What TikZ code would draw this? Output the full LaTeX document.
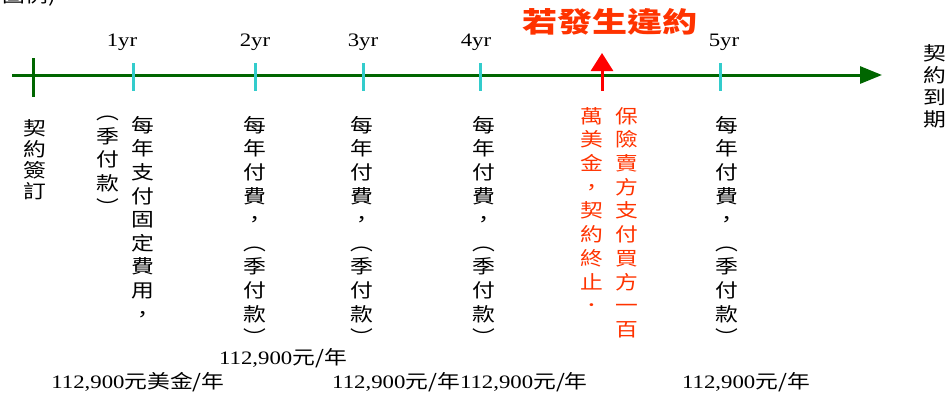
\documentclass[tikz,border=0pt]{standalone}
\usepackage{fontspec}
\setmainfont[FakeStretch=1.2]{Liberation Serif}
\newfontfamily\cjk[FakeStretch=1.2]{Noto Sans CJK TC}
\newfontfamily\cjkwide[FakeStretch=1.25]{Noto Sans CJK TC}
\usetikzlibrary{arrows.meta}
\definecolor{axisgreen}{RGB}{0,102,0}
\definecolor{tickcyan}{RGB}{51,204,204}
\definecolor{warnred}{RGB}{255,51,0}

\begin{document}
\begin{tikzpicture}[x=1pt,y=-1pt,
  col/.style={font=\cjk\fontsize{19}{23.6}\selectfont,align=center,inner sep=0pt,anchor=north},
  redcol/.style={col,text=warnred,font=\cjk\fontsize{19}{23.7}\selectfont},
  tick/.style={draw=tickcyan,line width=3pt},
  yr/.style={font=\fontsize{19}{19}\selectfont,inner sep=0pt},
  amt/.style={font=\fontsize{19}{19}\selectfont,inner sep=0pt}]
\useasboundingbox (0,0) rectangle (952,394);
% time axis
\coordinate (axisL) at (12,75);
\coordinate (axisR) at (882,75);
\draw[axisgreen,line width=3pt,-{Triangle[length=22pt,width=17pt]}] (axisL) -- (axisR);
\draw[axisgreen,line width=3pt] (33,58) -- (33,97);
\draw[tick] (133,63) -- (133,91);
\draw[tick] (255,63) -- (255,91);
\draw[tick] (363,63) -- (363,91);
\draw[tick] (480,63) -- (480,91);
\draw[tick] (720,63) -- (720,91);
% default point
\coordinate (hitL) at (602,91);
\coordinate (hitT) at (602,53);
\draw[red,line width=3pt,-{Triangle[length=18pt,width=22pt]}] (hitL) -- (hitT);
\node[font=\cjkwide\bfseries\fontsize{28}{28}\selectfont,text=warnred,inner sep=0pt] (breach) at (610,22) {若發生違約};
% years
\node[yr] (y1) at (122,42) {1yr};
\node[yr] (y2) at (255,42) {2yr};
\node[yr] (y3) at (363,42) {3yr};
\node[yr] (y4) at (476,42) {4yr};
\node[yr] (y5) at (724,42) {5yr};
% vertical labels
\node[font=\cjk\fontsize{19}{19}\selectfont,anchor=south east,inner sep=0pt] (legend) at (56,6) {圖例)};
\node[col,font=\cjk\fontsize{19}{21}\selectfont] (sign) at (35,119) {契\\約\\簽\\訂};
\node[col] (pay1) at (143,116) {每\\年\\支\\付\\固\\定\\費\\用\\，};
\node[col] (pay1q) at (108,116) {︵\\季\\付\\款\\︶};
\node[col] (pay2) at (255,116) {每\\年\\付\\費\\，\\︵\\季\\付\\款\\︶};
\node[col] (pay3) at (362,116) {每\\年\\付\\費\\，\\︵\\季\\付\\款\\︶};
\node[col] (pay4) at (484,116) {每\\年\\付\\費\\，\\︵\\季\\付\\款\\︶};
\node[col] (pay5) at (727,116) {每\\年\\付\\費\\，\\︵\\季\\付\\款\\︶};
\node[redcol] (payout) at (627,107) {保\\險\\賣\\方\\支\\付\\買\\方\\一\\百};
\node[redcol] (payoutb) at (592,107) {萬\\美\\金\\，\\契\\約\\終\\止\\．};
\node[col,font=\cjk\fontsize{19}{22}\selectfont] (expiry) at (935,44) {契\\約\\到\\期};
% amounts
\node[amt] (amt2) at (283,358) {112,900{\cjk 元/年}};
\node[amt] (amt1) at (138,382) {112,900{\cjk 元美金/年}};
\node[amt] (amt34) at (460,382) {112,900{\cjk 元/年}112,900{\cjk 元/年}};
\node[amt] (amt5) at (746,382) {112,900{\cjk 元/年}};
\end{tikzpicture}
\end{document}
